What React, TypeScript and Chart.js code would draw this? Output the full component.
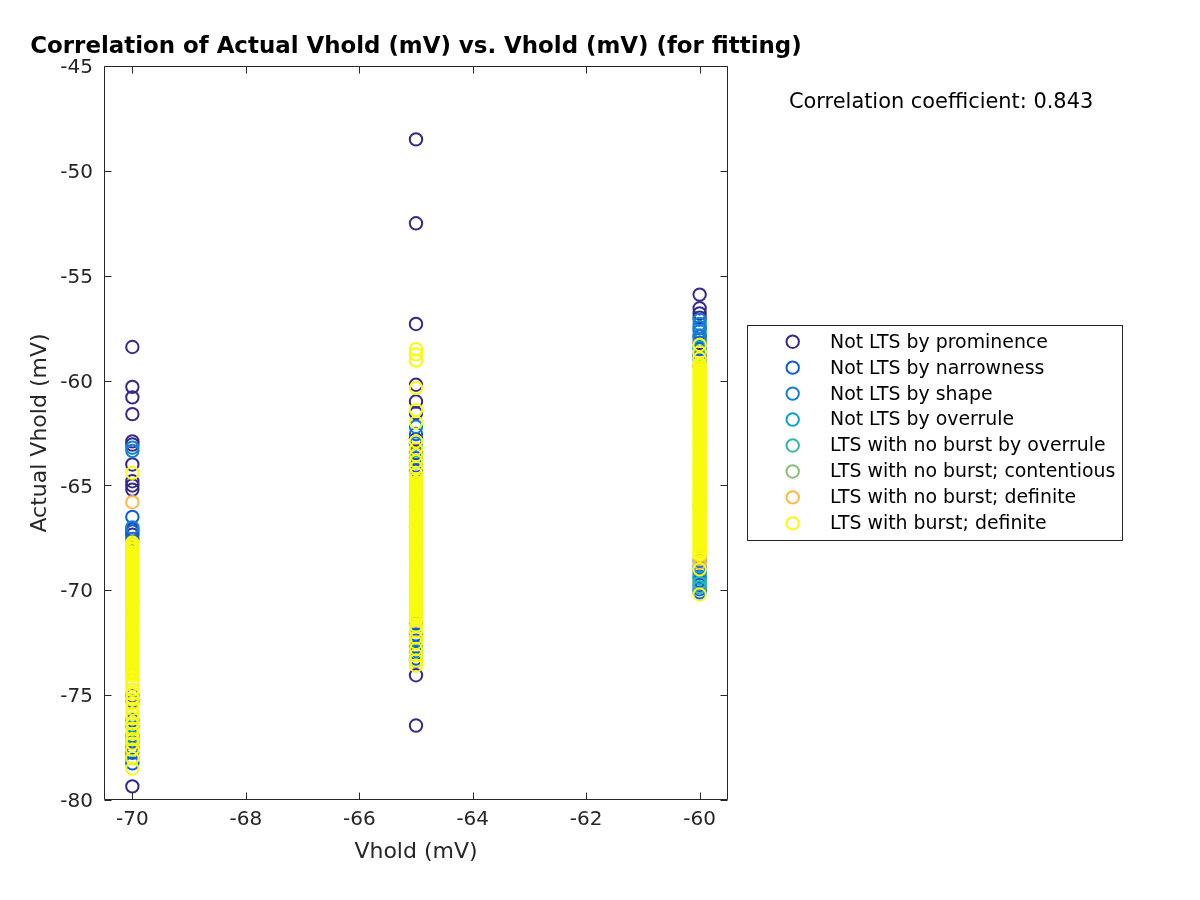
import { useEffect, useRef } from "react";
import { Chart, registerables } from "chart.js";

Chart.register(...registerables);

const FONT = '"DejaVu Sans", "Liberation Sans", sans-serif';

const chartTitle = "Correlation of Actual Vhold (mV) vs. Vhold (mV) (for fitting)";
const xAxisLabel = "Vhold (mV)";
const yAxisLabel = "Actual Vhold (mV)";
const correlationCoefficient = 0.843;

const holdLevels = [-70, -65, -60];
const xTickValues = [-70, -68, -66, -64, -62, -60];
const yTickValues = [-80, -75, -70, -65, -60, -55, -50, -45];

const seriesNames = [
  "Not LTS by prominence",
  "Not LTS by narrowness",
  "Not LTS by shape",
  "Not LTS by overrule",
  "LTS with no burst by overrule",
  "LTS with no burst; contentious",
  "LTS with no burst; definite",
  "LTS with burst; definite",
];
const seriesColors = [
  "#352A87",
  "#0F5CDD",
  "#1481D6",
  "#06A4CA",
  "#2EB7A4",
  "#87BF77",
  "#FCBA3D",
  "#F9FB0E",
];

// values per hold level (-70, -65, -60)
const notByProminence = [
  [-58.4, -60.3, -60.8, -61.6, -62.9, -63.05, -64.0, -64.8, -65.0, -65.2, -67.1, -67.35, -75.0, -79.35],
  [-48.5, -52.5, -57.3, -60.2, -61.0, -61.55, -62.8, -63.45, -64.3, -73.35, -74.05, -76.45],
  [-55.9, -56.55, -56.8, -57.0, -57.9, -58.2, -58.8, -59.3],
];
const notByNarrowness = [
  [-66.5, -67.2, -67.55, -75.3, -76.2, -76.9, -77.25, -77.5, -77.75, -78.0, -78.25],
  [-62.55, -63.7, -64.05, -71.6, -72.1, -72.4, -72.7, -73.0, -73.25],
  [-57.5, -58.5, -59.0, -68.9, -69.15, -69.35, -69.55, -69.75, -69.95, -70.1],
];
const notByShape = [
  [-63.2, -63.35, -67.0, -76.5],
  [-62.2, -63.0, -72.9],
  [-57.1, -57.3, -57.45, -57.65, -57.85, -58.05, -68.6],
];
const notByOverrule = [
  [-77.0],
  [-63.9],
  [-58.4, -69.4],
];
const noBurstByOverrule = [
  [],
  [],
  [-69.65, -69.85],
];
const noBurstContentious = [
  [-70.5],
  [-67.0],
  [-66.0],
];
const noBurstDefinite = [
  [-65.8],
  [-66.0],
  [-68.35, -68.5, -68.7],
];
const withBurstDefinite = [
  [
    -64.4,
    -67.72, -67.8, -67.91, -68.0, -68.07, -68.18, -68.26, -68.35, -68.44, -68.53, -68.6, -68.71, -68.79, -68.88,
    -68.97, -69.06, -69.15, -69.24, -69.3, -69.41, -69.5, -69.58, -69.67, -69.76, -69.85, -69.93, -70.02, -70.11,
    -70.2, -70.28, -70.37, -70.46, -70.55, -70.63, -70.72, -70.81, -70.9, -70.98, -71.07, -71.16, -71.25, -71.33,
    -71.42, -71.51, -71.6, -71.68, -71.77, -71.86, -71.95, -72.03, -72.12, -72.21, -72.3, -72.38, -72.47, -72.56,
    -72.65, -72.73, -72.82, -72.91, -73.0, -73.08, -73.17, -73.26, -73.35, -73.43, -73.52, -73.61, -73.7, -73.78,
    -73.87, -73.96, -74.05,
    -74.3, -74.5, -74.75, -74.95, -75.2, -75.4, -75.65, -75.9, -76.1, -76.35, -76.6, -76.85, -77.1, -77.3, -77.6,
    -78.0, -78.5,
  ],
  [
    -58.5, -58.75, -59.05, -60.35, -61.4, -62.0, -62.9, -63.25, -63.55, -63.85, -64.15, -64.45, -64.7,
    -64.85, -64.94, -65.03, -65.12, -65.2, -65.29, -65.38, -65.47, -65.55, -65.64, -65.73, -65.82, -65.9, -65.99,
    -66.08, -66.17, -66.25, -66.34, -66.43, -66.52, -66.6, -66.69, -66.78, -66.87, -66.95, -67.04, -67.13, -67.22,
    -67.3, -67.39, -67.48, -67.57, -67.65, -67.74, -67.83, -67.92, -68.0, -68.09, -68.18, -68.27, -68.35, -68.44,
    -68.53, -68.62, -68.7, -68.79, -68.88, -68.97, -69.05, -69.14, -69.23, -69.32, -69.4, -69.49, -69.58, -69.67,
    -69.75, -69.84, -69.93, -70.02, -70.1, -70.19, -70.28, -70.37, -70.45, -70.54, -70.63, -70.72, -70.8, -70.89,
    -70.98, -71.07, -71.15, -71.24, -71.33, -71.42,
    -71.7, -71.95, -72.25, -72.5, -72.8, -73.1, -73.35, -73.6,
  ],
  [
    -58.3, -58.65, -58.95,
    -59.2, -59.29, -59.38, -59.47, -59.55, -59.64, -59.73, -59.82, -59.9, -59.99, -60.08, -60.17, -60.25, -60.34,
    -60.43, -60.52, -60.6, -60.69, -60.78, -60.87, -60.95, -61.04, -61.13, -61.22, -61.3, -61.39, -61.48, -61.57,
    -61.65, -61.74, -61.83, -61.92, -62.0, -62.09, -62.18, -62.27, -62.35, -62.44, -62.53, -62.62, -62.7, -62.79,
    -62.88, -62.97, -63.05, -63.14, -63.23, -63.32, -63.4, -63.49, -63.58, -63.67, -63.75, -63.84, -63.93, -64.02,
    -64.1, -64.19, -64.28, -64.37, -64.45, -64.54, -64.63, -64.72, -64.8, -64.89, -64.98, -65.07, -65.15, -65.24,
    -65.33, -65.42, -65.5, -65.59, -65.68, -65.77, -65.85, -65.94, -66.03, -66.12, -66.2, -66.29, -66.38, -66.47,
    -66.55, -66.64, -66.73, -66.82, -66.9, -66.99, -67.08, -67.17, -67.25, -67.34, -67.43, -67.52, -67.6, -67.69,
    -67.78, -67.87, -67.95, -68.04, -68.13, -68.22, -68.3,
    -69.0, -70.2,
  ],
];

const seriesValues = [
  notByProminence,
  notByNarrowness,
  notByShape,
  notByOverrule,
  noBurstByOverrule,
  noBurstContentious,
  noBurstDefinite,
  withBurstDefinite,
];

const MARKER_RADIUS = 6.2;
const MARKER_WIDTH = 2;

const decorPlugin = {
  id: "matlabDecor",
  afterDraw(chart: any) {
    const { ctx, chartArea } = chart;
    const xs = chart.scales.x;
    const ys = chart.scales.y;
    const L = Math.round(chartArea.left) + 0.5;
    const R = Math.round(chartArea.right) - 0.5;
    const T = Math.round(chartArea.top) + 0.5;
    const B = Math.round(chartArea.bottom) - 0.5;
    ctx.save();
    ctx.strokeStyle = "#262626";
    ctx.lineWidth = 1;
    ctx.beginPath();
    ctx.rect(L, T, R - L, B - T);
    const tl = 7;
    for (const v of xTickValues) {
      const px = Math.round(xs.getPixelForValue(v)) + 0.5;
      ctx.moveTo(px, B);
      ctx.lineTo(px, B - tl);
      ctx.moveTo(px, T);
      ctx.lineTo(px, T + tl);
    }
    for (const v of yTickValues) {
      const py = Math.round(ys.getPixelForValue(v)) + 0.5;
      ctx.moveTo(L, py);
      ctx.lineTo(L + tl, py);
      ctx.moveTo(R, py);
      ctx.lineTo(R - tl, py);
    }
    ctx.stroke();

    // title
    ctx.fillStyle = "#000000";
    ctx.font = `bold 22.9px ${FONT}`;
    ctx.textAlign = "center";
    ctx.textBaseline = "middle";
    ctx.fillText(chartTitle, (chartArea.left + chartArea.right) / 2, 47);

    // correlation text
    ctx.font = `20.9px ${FONT}`;
    ctx.textAlign = "left";
    ctx.fillText(`Correlation coefficient: ${correlationCoefficient.toFixed(3)}`, 789, 103);

    // legend
    const bx = 747.5, by = 325.5, bw = 375, bh = 215;
    ctx.fillStyle = "#ffffff";
    ctx.fillRect(bx, by, bw, bh);
    ctx.strokeStyle = "#262626";
    ctx.lineWidth = 1;
    ctx.strokeRect(bx, by, bw, bh);
    ctx.font = `18.9px ${FONT}`;
    ctx.textAlign = "left";
    ctx.textBaseline = "middle";
    seriesNames.forEach((name, i) => {
      const y = 341.7 + i * 25.95;
      ctx.beginPath();
      ctx.strokeStyle = seriesColors[i];
      ctx.lineWidth = MARKER_WIDTH;
      ctx.arc(792.7, y, MARKER_RADIUS, 0, Math.PI * 2);
      ctx.stroke();
      ctx.fillStyle = "#000000";
      ctx.fillText(name, 830, y + 1);
    });
    ctx.restore();
  },
};

export default function App() {
  const ref = useRef<HTMLCanvasElement | null>(null);
  useEffect(() => {
    document.body.style.margin = "0";
    const canvas = ref.current;
    if (!canvas) return;
    const datasets = seriesNames.map((name, i) => ({
      label: name,
      data: holdLevels.flatMap((x, k) => seriesValues[i][k].map((y: number) => ({ x, y }))),
      borderColor: seriesColors[i],
      backgroundColor: "rgba(0,0,0,0)",
      pointStyle: "circle",
      pointRadius: MARKER_RADIUS,
      pointBorderWidth: MARKER_WIDTH,
      pointHoverRadius: MARKER_RADIUS,
      showLine: false,
      order: seriesNames.length - i,
    }));
    const chart = new Chart(canvas, {
      type: "scatter",
      data: { datasets },
      options: {
        animation: false,
        responsive: false,
        devicePixelRatio: 1,
        layout: { padding: { top: 66, left: 0, right: 472, bottom: 0 } },
        plugins: {
          legend: { display: false },
          tooltip: { enabled: false },
          title: { display: false },
        },
        scales: {
          x: {
            type: "linear",
            min: -70.5,
            max: -59.5,
            afterBuildTicks: (s: any) => {
              s.ticks = xTickValues.map((v) => ({ value: v }));
            },
            afterFit: (s: any) => {
              s.height = 100;
              s.paddingLeft = 0;
              s.paddingRight = 0;
            },
            grid: { display: false, drawTicks: false },
            border: { display: false },
            ticks: {
              font: { family: FONT, size: 20 },
              color: "#262626",
              padding: 8,
              maxRotation: 0,
              autoSkip: false,
              callback: (v: any) => String(v),
            },
            title: {
              display: true,
              text: xAxisLabel,
              font: { family: FONT, size: 22 },
              color: "#262626",
              padding: { top: 0, bottom: 35 },
            },
          },
          y: {
            type: "linear",
            min: -80,
            max: -45,
            afterBuildTicks: (s: any) => {
              s.ticks = yTickValues.map((v) => ({ value: v }));
            },
            afterFit: (s: any) => {
              s.width = 104;
              s.paddingTop = 0;
              s.paddingBottom = 0;
            },
            grid: { display: false, drawTicks: false },
            border: { display: false },
            ticks: {
              font: { family: FONT, size: 20 },
              color: "#262626",
              padding: 11,
              labelOffset: 2,
              autoSkip: false,
              callback: (v: any) => String(v),
            },
            title: {
              display: true,
              text: yAxisLabel,
              font: { family: FONT, size: 22 },
              color: "#262626",
              padding: { top: 27, bottom: 0 },
            },
          },
        },
      },
      plugins: [decorPlugin],
    } as any);
    return () => chart.destroy();
  }, []);
  return (
    <canvas
      ref={ref}
      width={1200}
      height={900}
      style={{ display: "block", width: "1200px", height: "900px" }}
    />
  );
}
